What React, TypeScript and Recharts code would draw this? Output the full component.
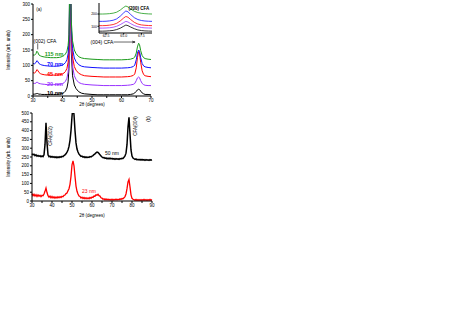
import React from 'react';
import { LineChart, Line, XAxis, YAxis, ReferenceLine } from 'recharts';

// ---------- Panel (a): XRD patterns, offset ----------
const xA = [30, 30.5, 31, 31.3, 31.6, 32, 32.5, 33, 34, 35, 36, 37, 38, 39, 40, 40.5, 41, 41.5, 41.9, 42.2, 42.35, 42.5, 42.7, 42.95, 43.4, 44, 44.6, 45.5, 46.5, 47.5, 50, 52, 54, 56, 58, 60, 62, 63, 64, 64.5, 65, 65.4, 65.8, 66.1, 66.5, 67, 67.5, 68, 69, 70];
const nm115 = [134, 133, 138, 146, 143, 134, 131, 129, 127, 126, 125, 125, 125, 126, 129, 132, 137, 146, 165, 200, 300, 600, 400, 250, 180, 150, 138, 128, 124, 122, 120, 119, 118, 118, 118, 118, 119, 120, 123, 127, 140, 160, 172, 168, 148, 132, 125, 122, 120, 119];
const nm70 = [106, 105, 109, 115, 113, 106, 103, 101, 99, 98, 97, 97, 97, 98, 101, 104, 109, 118, 138, 175, 280, 600, 400, 230, 155, 124, 112, 102, 97, 95, 93, 92, 91, 91, 91, 91, 92, 93, 96, 101, 118, 140, 150, 146, 125, 106, 98, 95, 93, 92];
const nm45 = [76, 75, 79, 86, 84, 77, 73, 71, 69, 68, 68, 68, 68, 69, 72, 75, 80, 90, 110, 150, 260, 600, 400, 210, 128, 96, 84, 74, 69, 66, 64, 63, 62, 62, 62, 62, 63, 64, 67, 72, 92, 125, 145, 140, 110, 82, 70, 66, 64, 63];
const nm20 = [42, 41, 42, 45, 44, 41, 40, 39, 38, 37, 37, 37, 37, 38, 40, 43, 48, 58, 78, 120, 230, 600, 400, 180, 98, 66, 54, 44, 40, 38, 36, 35, 34, 34, 34, 34, 35, 36, 38, 41, 50, 59, 62, 60, 50, 41, 37, 35, 34, 34];
const nm10 = [6, 6, 7, 8, 8, 6, 6, 5, 5, 5, 5, 5, 5, 6, 8, 11, 16, 26, 46, 90, 200, 600, 400, 150, 66, 36, 24, 14, 9, 7, 5, 4, 4, 4, 4, 4, 4, 5, 7, 10, 15, 20, 22, 21, 16, 10, 7, 5, 5, 4];
const ticksAx = [30, 35, 40, 45, 50, 55, 60, 65, 70];
const ticksAy = [0, 50, 100, 150, 200, 250, 300];

// ---------- Inset: (200) CFA ----------
const xIn = [61.5, 62, 62.5, 63, 63.5, 64, 64.5, 65, 65.3, 65.6, 66, 66.5, 67, 67.5, 68, 68.5, 69];
const in115 = [200, 200, 201, 203, 207, 215, 232, 255, 265, 258, 240, 222, 212, 206, 203, 201, 200];
const in70 = [140, 140, 141, 144, 149, 160, 182, 210, 225, 218, 195, 170, 155, 147, 143, 141, 140];
const in45 = [105, 105, 106, 109, 114, 124, 143, 168, 180, 174, 154, 132, 118, 111, 108, 106, 105];
const in20 = [85, 85, 86, 88, 92, 100, 113, 130, 140, 135, 121, 106, 96, 90, 87, 86, 85];
const in10 = [60, 60, 61, 63, 66, 73, 84, 100, 110, 105, 93, 80, 70, 65, 62, 61, 60];
const ticksInX = [62.5, 65, 67.5];
const ticksInY = [100, 200];

// ---------- Panel (b) ----------
const xB = [30, 30.5, 31, 31.5, 32, 32.5, 33, 33.5, 34, 34.5, 35, 35.5, 36, 36.5, 37, 37.5, 38, 38.5, 39, 39.5, 40, 40.5, 41, 41.5, 42, 42.5, 43, 43.5, 44, 44.5, 45, 45.5, 46, 46.5, 47, 47.5, 48, 48.5, 49, 49.5, 50, 50.5, 51, 51.5, 52, 52.5, 53, 53.5, 54, 54.5, 55, 55.5, 56, 56.5, 57, 57.5, 58, 58.5, 59, 59.5, 60, 60.5, 61, 61.5, 62, 62.5, 63, 63.5, 64, 64.5, 65, 65.5, 66, 66.5, 67, 67.5, 68, 68.5, 69, 69.5, 70, 70.5, 71, 71.5, 72, 72.5, 73, 73.5, 74, 74.5, 75, 75.5, 76, 76.5, 77, 77.5, 78, 78.5, 79, 79.5, 80, 80.5, 81, 81.5, 82, 82.5, 83, 83.5, 84, 84.5, 85, 85.5, 86, 86.5, 87, 87.5, 88, 88.5, 89, 89.5, 90];
const nm50 = [268, 262, 266, 258, 262, 255, 259, 254, 257, 251, 256, 252, 262, 320, 445, 330, 262, 252, 255, 249, 253, 248, 252, 247, 251, 246, 250, 247, 252, 248, 254, 252, 258, 262, 268, 278, 290, 310, 345, 400, 480, 540, 490, 400, 330, 295, 278, 266, 260, 253, 255, 249, 252, 247, 250, 246, 250, 248, 252, 250, 255, 258, 264, 268, 274, 278, 276, 270, 262, 256, 250, 246, 247, 242, 245, 240, 244, 240, 243, 239, 242, 238, 241, 237, 241, 238, 240, 237, 241, 239, 243, 242, 248, 256, 272, 320, 420, 475, 380, 290, 255, 244, 240, 236, 239, 234, 237, 233, 236, 232, 236, 232, 235, 231, 235, 232, 234, 231, 235, 232, 234];
const nm23 = [42, 30, 38, 28, 36, 26, 35, 27, 33, 25, 32, 30, 40, 55, 74, 48, 30, 22, 28, 18, 26, 17, 24, 16, 23, 17, 24, 18, 25, 20, 27, 24, 32, 34, 42, 45, 58, 70, 95, 140, 205, 228, 200, 140, 85, 55, 40, 28, 26, 17, 22, 14, 20, 13, 19, 12, 18, 13, 20, 15, 22, 20, 28, 27, 35, 33, 38, 30, 28, 18, 16, 10, 13, 7, 12, 6, 11, 6, 10, 5, 10, 5, 10, 6, 11, 6, 10, 7, 12, 9, 14, 13, 18, 25, 40, 70, 108, 122, 80, 35, 15, 10, 8, 4, 9, 3, 8, 3, 8, 3, 8, 4, 9, 4, 8, 3, 8, 4, 9, 4, 8];
const ticksBx = [30, 35, 40, 45, 50, 55, 60, 65, 70, 75, 80, 85, 90];
const ticksBy = [0, 50, 100, 150, 200, 250, 300, 350, 400, 450, 500];

const dataA = xA.map((x, i) => ({ x, a: nm10[i], b: nm20[i], c: nm45[i], d: nm70[i], e: nm115[i] }));
const dataIn = xIn.map((x, i) => ({ x, a: in10[i], b: in20[i], c: in45[i], d: in70[i], e: in115[i] }));
const dataB = xB.map((x, i) => ({ x, k: nm50[i], r: nm23[i] }));

const GREEN = '#1a9a1a';
const BLUE = '#1010ff';
const RED = '#ff0000';
const PURPLE = '#9933ff';
const FONT = '"Liberation Sans", Arial, sans-serif';

const tickStyle = { fontSize: 4.5, fill: '#000', fontFamily: FONT };
const fmt10 = (v: number) => (v % 10 === 0 ? String(v) : '');

function T(props: { x: number; y: number; size?: number; color?: string; bold?: boolean; rot?: number; children: React.ReactNode }) {
  const { x, y, size = 4.5, color = '#000', bold = false, rot = 0, children } = props;
  return (
    <div
      style={{
        position: 'absolute',
        left: x,
        top: y,
        transform: `translate(-50%, -50%) rotate(${rot}deg)`,
        fontSize: size,
        color,
        fontWeight: bold ? 700 : 400,
        whiteSpace: 'nowrap',
        lineHeight: 1,
        fontFamily: FONT,
      }}
    >
      {children}
    </div>
  );
}

export default function App() {
  return (
    <div style={{ position: 'absolute', left: 0, top: 0, width: 463, height: 328, background: '#fff', fontFamily: FONT }}>
      {/* Panel (a) */}
      <div style={{ position: 'absolute', left: 0, top: 0 }}>
        <LineChart width={163} height={115} data={dataA} margin={{ top: 4, right: 12, left: 0, bottom: 0 }}>
          <XAxis dataKey="x" type="number" domain={[30, 70]} ticks={ticksAx} interval={0} tickFormatter={fmt10} height={19} tick={tickStyle} tickSize={2} tickMargin={1} stroke="#000" allowDataOverflow />
          <XAxis xAxisId="top" orientation="top" dataKey="x" type="number" domain={[30, 70]} ticks={ticksAx} tick={false} height={0} tickSize={2} stroke="#000" />
          <YAxis type="number" domain={[0, 300]} ticks={ticksAy} interval={0} width={33} tick={tickStyle} tickSize={2} tickMargin={1} stroke="#000" allowDataOverflow />
          <YAxis yAxisId="right" orientation="right" type="number" domain={[0, 300]} ticks={ticksAy} tick={false} width={0} tickSize={2} stroke="#000" />
          <Line dataKey="a" stroke="#000" strokeWidth={1} dot={false} isAnimationActive={false} />
          <Line dataKey="b" stroke={PURPLE} strokeWidth={1} dot={false} isAnimationActive={false} />
          <Line dataKey="c" stroke={RED} strokeWidth={1} dot={false} isAnimationActive={false} />
          <Line dataKey="d" stroke={BLUE} strokeWidth={1} dot={false} isAnimationActive={false} />
          <Line dataKey="e" stroke={GREEN} strokeWidth={1} dot={false} isAnimationActive={false} />
          <ReferenceLine segment={[{ x: 31.6, y: 172 }, { x: 31.6, y: 152 }]} stroke="#000" strokeWidth={0.6} />
          <ReferenceLine segment={[{ x: 57.3, y: 176 }, { x: 64.6, y: 176 }]} stroke="#000" strokeWidth={0.6} />
          <ReferenceLine segment={[{ x: 63.6, y: 179 }, { x: 64.6, y: 176 }]} stroke="#000" strokeWidth={0.6} />
          <ReferenceLine segment={[{ x: 63.6, y: 173 }, { x: 64.6, y: 176 }]} stroke="#000" strokeWidth={0.6} />
        </LineChart>
      </div>

      {/* Inset */}
      <div style={{ position: 'absolute', left: 85, top: 0 }}>
        <LineChart width={70} height={40} data={dataIn} margin={{ top: 3, right: 3, left: 0, bottom: 0 }}>
          <XAxis dataKey="x" type="number" domain={[61.5, 69]} ticks={ticksInX} interval={0} tickFormatter={(v: number) => v.toFixed(1)} height={7} tick={{ fontSize: 3.5, fill: '#000', fontFamily: FONT }} tickSize={1.5} tickMargin={0.5} stroke="#000" />
          <XAxis xAxisId="top" orientation="top" dataKey="x" type="number" domain={[61.5, 69]} tick={false} height={0} stroke="#000" />
          <YAxis type="number" domain={[45, 290]} ticks={ticksInY} interval={0} width={14} tick={{ fontSize: 3.5, fill: '#000', fontFamily: FONT }} tickSize={1.5} tickMargin={0.5} stroke="#000" />
          <YAxis yAxisId="right" orientation="right" type="number" domain={[45, 290]} tick={false} width={0} stroke="#000" />
          <Line dataKey="a" stroke="#000" strokeWidth={0.8} dot={false} isAnimationActive={false} />
          <Line dataKey="b" stroke={PURPLE} strokeWidth={0.8} dot={false} isAnimationActive={false} />
          <Line dataKey="c" stroke={RED} strokeWidth={0.8} dot={false} isAnimationActive={false} />
          <Line dataKey="d" stroke={BLUE} strokeWidth={0.8} dot={false} isAnimationActive={false} />
          <Line dataKey="e" stroke={GREEN} strokeWidth={0.8} dot={false} isAnimationActive={false} />
        </LineChart>
      </div>

      {/* Panel (b) */}
      <div style={{ position: 'absolute', left: 0, top: 100 }}>
        <LineChart width={164} height={125} data={dataB} margin={{ top: 13, right: 12, left: 0, bottom: 0 }}>
          <XAxis dataKey="x" type="number" domain={[30, 90]} ticks={ticksBx} interval={0} tickFormatter={fmt10} height={24} tick={tickStyle} tickSize={2} tickMargin={1} stroke="#000" />
          <XAxis xAxisId="top" orientation="top" dataKey="x" type="number" domain={[30, 90]} ticks={ticksBx} tick={false} height={0} tickSize={2} stroke="#000" />
          <YAxis type="number" domain={[0, 500]} ticks={ticksBy} interval={0} width={32} tick={tickStyle} tickSize={2} tickMargin={1} stroke="#000" allowDataOverflow />
          <YAxis yAxisId="right" orientation="right" type="number" domain={[0, 500]} ticks={ticksBy} tick={false} width={0} tickSize={2} stroke="#000" />
          <Line dataKey="r" stroke={RED} strokeWidth={1.3} dot={false} isAnimationActive={false} />
          <Line dataKey="k" stroke="#000" strokeWidth={1.5} dot={false} isAnimationActive={false} />
        </LineChart>
      </div>

      {/* Panel (a) texts */}
      <T x={9} y={50} rot={-90}>Intensity (arb. units)</T>
      <T x={92} y={105}>2θ (degrees)</T>
      <T x={39} y={10}>(a)</T>
      <T x={45} y={41} size={5}>(002) CFA</T>
      <T x={54} y={55} size={5.5} color={GREEN} bold>115 nm</T>
      <T x={55} y={64.5} size={5.5} color={BLUE} bold>70 nm</T>
      <T x={55} y={74.5} size={5.5} color={RED} bold>45 nm</T>
      <T x={55} y={84.5} size={5.5} color={PURPLE} bold>20 nm</T>
      <T x={55} y={94} size={5.5} color="#000" bold>10 nm</T>
      <T x={102} y={42} size={5}>(004) CFA</T>
      <T x={139} y={9} size={4.5} bold>(200) CFA</T>

      {/* Panel (b) texts */}
      <T x={9} y={157} rot={-90}>Intensity (arb. units)</T>
      <T x={92} y={216}>2θ (degrees)</T>
      <T x={51} y={136} rot={-90}>CFA(002)</T>
      <T x={136} y={126} rot={-90}>CFA(004)</T>
      <T x={149} y={119} rot={-90}>(b)</T>
      <T x={112} y={153} size={5}>50 nm</T>
      <T x={89} y={191} size={5} color={RED}>23 nm</T>
    </div>
  );
}
